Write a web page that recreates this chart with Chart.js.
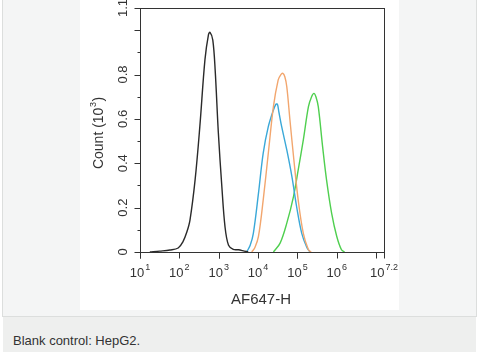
<!DOCTYPE html>
<html>
<head>
<meta charset="utf-8">
<script src="https://cdn.jsdelivr.net/npm/chart.js@4/dist/chart.umd.min.js"></script>
<style>
    body { margin: 0; width: 477px; height: 352px; background: #fff; position: relative; overflow: hidden;
           font-family: "Liberation Sans", Arial, sans-serif; }
    .panel { position: absolute; left: 2px; top: -1px; width: 473px; height: 316px; background: #f4f5f5; border: 1px solid #dcdedd; }
    .figure { position: absolute; left: 80px; top: 0; width: 319px; height: 310px; background: #fff; }
    .caption { position: absolute; left: 3px; top: 317px; width: 473px; height: 35px; background: #eeefee; }
    .caption span { position: absolute; left: 10px; top: 16px; font-size: 13px; color: #333; }
</style>
</head>
<body>
<div class="panel"></div>
<div class="figure"><canvas id="histChart" width="319" height="310"></canvas></div>
<div class="caption"><span>Blank control: HepG2.</span></div>
<script>
// positions are log10 of the AF647-H signal, counts are in thousands
const blankExp   = [1.25, 1.5, 1.76, 1.97, 2.09, 2.19, 2.27, 2.40, 2.52, 2.65, 2.74, 2.78, 2.85, 2.91, 2.99, 3.08, 3.16, 3.25, 3.37, 3.5, 3.65, 3.75];
const blankCount = [0, 0.004, 0.009, 0.018, 0.046, 0.09, 0.144, 0.325, 0.565, 0.866, 0.98, 0.99, 0.955, 0.82, 0.54, 0.294, 0.114, 0.03, 0.012, 0.01, 0.004, 0];

const blueExp   = [3.71, 3.8, 3.88, 4.01, 4.13, 4.26, 4.39, 4.45, 4.49, 4.53, 4.60, 4.73, 4.86, 4.98, 5.11, 5.24, 5.32];
const blueCount = [0, 0.03, 0.084, 0.264, 0.445, 0.565, 0.64, 0.665, 0.667, 0.63, 0.565, 0.46, 0.34, 0.204, 0.084, 0.02, 0];

const orangeExp   = [3.84, 3.92, 4.01, 4.13, 4.26, 4.39, 4.51, 4.58, 4.63, 4.68, 4.73, 4.81, 4.91, 5.02, 5.15, 5.28, 5.35];
const orangeCount = [0, 0.02, 0.07, 0.234, 0.445, 0.655, 0.775, 0.80, 0.805, 0.79, 0.745, 0.595, 0.415, 0.234, 0.084, 0.01, 0];

const greenExp   = [4.39, 4.56, 4.73, 4.90, 5.02, 5.15, 5.28, 5.36, 5.42, 5.47, 5.53, 5.64, 5.74, 5.87, 6.00, 6.12, 6.2];
const greenCount = [0, 0.04, 0.13, 0.25, 0.37, 0.505, 0.655, 0.70, 0.715, 0.70, 0.655, 0.475, 0.325, 0.174, 0.07, 0.01, 0];

const xTickExps = ['1', '2', '3', '4', '5', '6', '7.2'];
const yTickLabels = ['0', '0.2', '0.4', '0.6', '0.8', '1.1'];
const yMajorTicks = [0, 0.2, 0.4, 0.6, 0.8, 1.0, 1.1];

const toPoints = (exps, counts) => exps.map((e, i) => ({ x: Math.pow(10, e), y: counts[i] }));

const series = (data, color) => ({
    data: data,
    borderColor: color,
    borderWidth: 1.4,
    pointRadius: 0,
    tension: 0.35,
    fill: false,
});

const axesPlugin = {
    id: 'axesPlugin',
    afterDraw(chart) {
        const ctx = chart.ctx;
        const area = chart.chartArea;
        const xs = chart.scales.x;
        const ys = chart.scales.y;
        ctx.save();
        ctx.strokeStyle = '#333';
        ctx.lineWidth = 1;
        ctx.strokeRect(Math.round(area.left) + 0.5, Math.round(area.top) + 0.5,
            Math.round(area.right - area.left), Math.round(area.bottom - area.top));

        const bottom = Math.round(area.bottom) + 0.5;
        const left = Math.round(area.left) + 0.5;
        ctx.beginPath();
        // minor ticks come from the library's own scales
        xs.ticks.forEach((t) => {
            const px = Math.round(xs.getPixelForValue(t.value)) + 0.5;
            ctx.moveTo(px, bottom);
            ctx.lineTo(px, bottom + (t.major ? 6 : 3));
        });
        xTickExps.forEach((e) => {
            const px = Math.round(xs.getPixelForValue(Math.pow(10, parseFloat(e)))) + 0.5;
            ctx.moveTo(px, bottom);
            ctx.lineTo(px, bottom + 6);
        });
        ys.ticks.forEach((t) => {
            const py = Math.round(ys.getPixelForValue(t.value)) + 0.5;
            ctx.moveTo(left, py);
            ctx.lineTo(left - 3, py);
        });
        yMajorTicks.forEach((v) => {
            const py = Math.round(ys.getPixelForValue(v)) + 0.5;
            ctx.moveTo(left, py);
            ctx.lineTo(left - 6, py);
        });
        ctx.stroke();

        ctx.fillStyle = '#333';
        // x tick labels 10^n
        xTickExps.forEach((e) => {
            const px = xs.getPixelForValue(Math.pow(10, parseFloat(e)));
            ctx.font = '13px "Liberation Sans", Arial, sans-serif';
            const wBase = ctx.measureText('10').width;
            ctx.font = '9px "Liberation Sans", Arial, sans-serif';
            const wSup = ctx.measureText(e).width;
            const x0 = px - (wBase + wSup + 1) / 2;
            ctx.textAlign = 'left';
            ctx.textBaseline = 'alphabetic';
            ctx.font = '13px "Liberation Sans", Arial, sans-serif';
            ctx.fillText('10', x0, 277);
            ctx.font = '9px "Liberation Sans", Arial, sans-serif';
            ctx.fillText(e, x0 + wBase + 1, 270);
        });

        // y tick labels, rotated
        ctx.font = '13px "Liberation Sans", Arial, sans-serif';
        ctx.textAlign = 'center';
        ctx.textBaseline = 'middle';
        yTickLabels.forEach((lab) => {
            const py = ys.getPixelForValue(parseFloat(lab));
            ctx.save();
            ctx.translate(43, py);
            ctx.rotate(-Math.PI / 2);
            ctx.fillText(lab, 0, 0);
            ctx.restore();
        });

        // x title
        ctx.font = '15px "Liberation Sans", Arial, sans-serif';
        ctx.textAlign = 'center';
        ctx.textBaseline = 'middle';
        ctx.fillText('AF647-H', 181, 300);

        // y title: Count (10^3)
        ctx.save();
        ctx.translate(18, 133);
        ctx.rotate(-Math.PI / 2);
        ctx.font = '14px "Liberation Sans", Arial, sans-serif';
        const w1 = ctx.measureText('Count (10').width;
        const w3 = ctx.measureText(')').width;
        ctx.font = '9px "Liberation Sans", Arial, sans-serif';
        const w2 = ctx.measureText('3').width;
        const start = -(w1 + w2 + w3 + 1) / 2;
        ctx.textAlign = 'left';
        ctx.textBaseline = 'alphabetic';
        ctx.font = '14px "Liberation Sans", Arial, sans-serif';
        ctx.fillText('Count (10', start, 5);
        ctx.fillText(')', start + w1 + w2 + 1, 5);
        ctx.font = '9px "Liberation Sans", Arial, sans-serif';
        ctx.fillText('3', start + w1 + 0.5, -2);
        ctx.restore();

        ctx.restore();
    },
};

new Chart(document.getElementById('histChart'), {
    type: 'line',
    data: {
        datasets: [
            series(toPoints(blankExp, blankCount), '#2a2a2a'),
            series(toPoints(orangeExp, orangeCount), '#f2a66e'),
            series(toPoints(blueExp, blueCount), '#3aa8d8'),
            series(toPoints(greenExp, greenCount), '#4fcf4f'),
        ],
    },
    options: {
        responsive: false,
        animation: false,
        layout: { padding: { left: 60, top: 8, right: 15, bottom: 58 } },
        plugins: { legend: { display: false }, tooltip: { enabled: false } },
        scales: {
            x: { type: 'logarithmic', min: 10, max: Math.pow(10, 7.2), display: false },
            y: { type: 'linear', min: 0, max: 1.1, display: false, ticks: { stepSize: 0.05 } },
        },
    },
    plugins: [axesPlugin],
});
</script>
</body>
</html>
